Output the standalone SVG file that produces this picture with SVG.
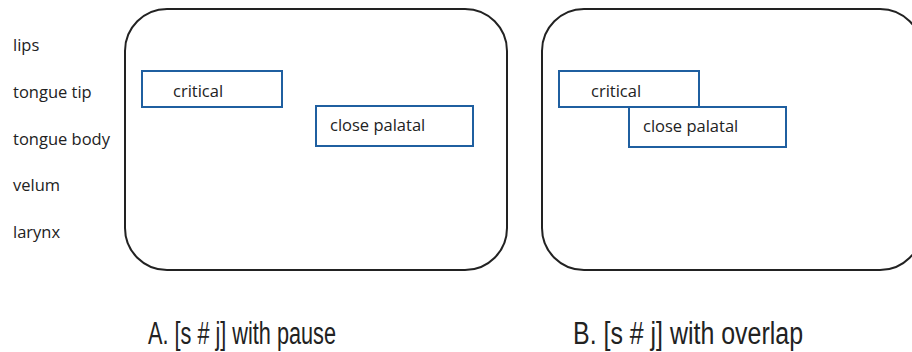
<svg xmlns="http://www.w3.org/2000/svg" width="912" height="352" viewBox="0 0 912 352">
<style>
.frame{fill:none;stroke:#222;stroke-width:2}
.box{fill:#fff;stroke:#1f5fa0;stroke-width:2}
.lbl{font-family:"Open Sans","Liberation Sans",sans-serif;font-size:16.5px;fill:#222}
.cap{font-family:"Liberation Sans",sans-serif;font-size:31px;fill:#222}
</style>
<rect width="912" height="352" fill="#fff"/>
<g id="labels">
<text class="lbl" x="13" y="51">lips</text>
<text class="lbl" x="13" y="98">tongue tip</text>
<text class="lbl" x="13" y="145">tongue body</text>
<text class="lbl" x="13" y="191">velum</text>
<text class="lbl" x="13" y="238">larynx</text>
</g>
<g id="panelA">
<rect class="frame" x="125" y="9" width="382" height="261" rx="42"/>
<g id="A-critical"><rect class="box" x="142" y="71" width="140" height="36"/><text class="lbl" x="173" y="97">critical</text></g>
<g id="A-close"><rect class="box" x="316" y="106" width="157" height="40"/><text class="lbl" x="330" y="131">close palatal</text></g>
<text class="cap" x="148" y="344" textLength="188" lengthAdjust="spacingAndGlyphs">A. [s # j] with pause</text>
</g>
<g id="panelB">
<rect class="frame" x="542" y="9" width="380" height="261" rx="42"/>
<g id="B-critical"><rect class="box" x="559" y="71" width="140" height="36"/><text class="lbl" x="591" y="97">critical</text></g>
<g id="B-close"><rect class="box" x="629" y="107" width="157" height="40"/><text class="lbl" x="643" y="132">close palatal</text></g>
<text class="cap" x="573" y="344" textLength="230" lengthAdjust="spacingAndGlyphs">B. [s # j] with overlap</text>
</g>
<g id="connectors"/>
</svg>
